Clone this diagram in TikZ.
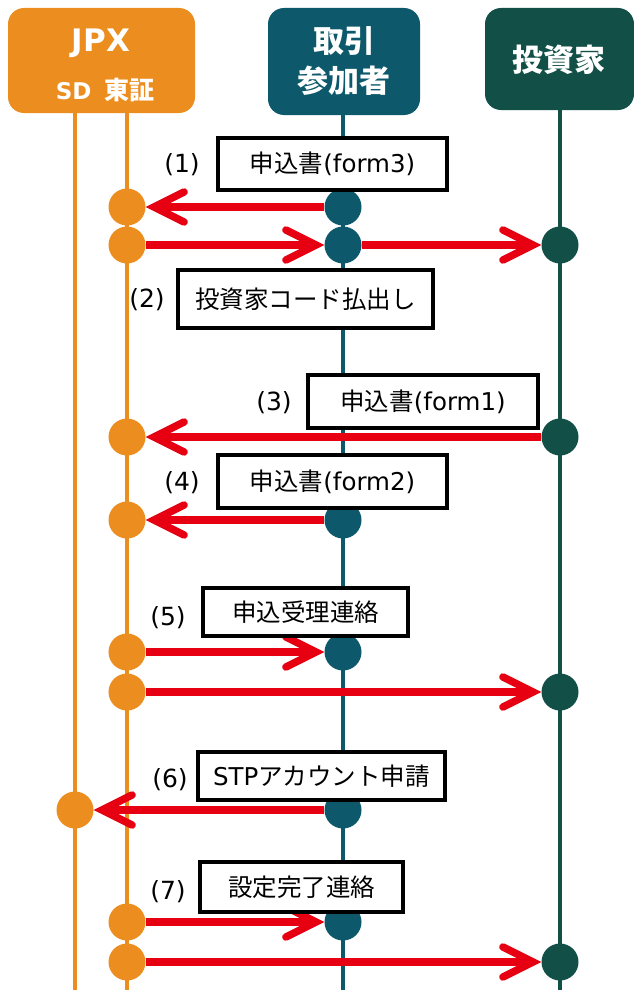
\documentclass[tikz,border=0pt]{standalone}
\usepackage{fontspec}
\setmainfont{Noto Sans CJK JP}
\newfontfamily\lat{DejaVu Sans}
\usetikzlibrary{arrows.meta}
\definecolor{jpxorange}{HTML}{EC8D1F}
\definecolor{partteal}{HTML}{0D596B}
\definecolor{invgreen}{HTML}{114F47}
\definecolor{arrred}{HTML}{E60012}
\pgfdeclarelayer{bg}
\pgfsetlayers{bg,main}
\tikzset{
  header/.style={rounded corners=16pt, inner sep=0pt},
  headtxt/.style={text=white, inner sep=0pt, align=center},
  odot/.style={circle, fill=jpxorange, minimum size=37pt, inner sep=0pt},
  tdot/.style={circle, fill=partteal, minimum size=37pt, inner sep=0pt},
  gdot/.style={circle, fill=invgreen, minimum size=37pt, inner sep=0pt},
  msgbox/.style={draw=black, line width=4.5pt, fill=white, inner sep=0pt, font=\fontsize{24.5}{28}\selectfont},
  numlbl/.style={font=\lat\fontsize{25}{28}\selectfont, inner sep=0pt},
  msg/.style={draw=arrred, line width=7.5pt, -{Straight Barb[length=30pt,width=30pt,line cap=round]}},
  lifeline/.style={line width=4pt}
}
\begin{document}
\begin{tikzpicture}[x=1pt,y=-1pt]
\useasboundingbox (0,0) rectangle (634,990);
% headers
\node[header, fill=jpxorange, minimum width=187pt, minimum height=105pt] (jpx) at (101.5,60.5) {};
\node[headtxt, font=\lat\fontsize{31}{36}\selectfont\bfseries] (jpxt) at (101,43) {JPX};
\node[headtxt, font=\fontsize{25}{28}\selectfont\bfseries] (sdt) at (105,90) {{\lat\fontsize{23}{28}\selectfont\bfseries SD}\hspace{0.5em}東証};
\node[header, fill=partteal, minimum width=152pt, minimum height=107pt] (part) at (344,61.5) {};
\node[headtxt, font=\fontsize{31}{40}\selectfont\bfseries] (partt) at (344,61) {取引\\参加者};
\node[header, fill=invgreen, minimum width=149pt, minimum height=102pt] (inv) at (559.5,59) {};
\node[headtxt, font=\fontsize{31}{36}\selectfont\bfseries] (invt) at (559,60) {投資家};
% lifeline end points
\coordinate (sdtop) at (75,113);
\coordinate (sdbot) at (75,990);
\coordinate (tstop) at (127,113);
\coordinate (tsbot) at (127,990);
\coordinate (ptop) at (343,115);
\coordinate (pbot) at (343,990);
\coordinate (itop) at (560,110);
\coordinate (ibot) at (560,990);
% dots
\node[odot] (o1) at (127,207) {};
\node[tdot] (t1) at (343,207) {};
\node[odot] (o2) at (127,245) {};
\node[tdot] (t2) at (343,245) {};
\node[gdot] (g2) at (560,245) {};
\node[gdot] (g3) at (560,437) {};
\node[odot] (o3) at (127,437) {};
\node[tdot] (t4) at (343,520) {};
\node[odot] (o4) at (127,520) {};
\node[odot] (o5) at (127,652) {};
\node[tdot] (t5) at (343,652) {};
\node[odot] (o5b) at (127,692) {};
\node[gdot] (g5) at (560,692) {};
\node[tdot] (t6) at (343,810) {};
\node[odot] (s6) at (75,810) {};
\node[odot] (o7) at (127,922) {};
\node[tdot] (t7) at (343,922) {};
\node[odot] (o7b) at (127,962) {};
\node[gdot] (g7) at (560,962) {};
\begin{pgfonlayer}{bg}
\draw[lifeline, jpxorange] (sdtop) -- (sdbot);
\draw[lifeline, jpxorange] (tstop) -- (tsbot);
\draw[lifeline, partteal] (ptop) -- (pbot);
\draw[lifeline, invgreen] (itop) -- (ibot);
\draw[msg] (t1) -- (o1);
\draw[msg] (o2) -- (t2);
\draw[msg] (t2) -- (g2);
\draw[msg] (g3) -- (o3);
\draw[msg] (t4) -- (o4);
\draw[msg] (o5) -- (t5);
\draw[msg] (o5b) -- (g5);
\draw[msg] (t6) -- (s6);
\draw[msg] (o7) -- (t7);
\draw[msg] (o7b) -- (g7);
\end{pgfonlayer}
% message boxes
\node[msgbox, minimum width=229pt, minimum height=52pt] (b1) at (332.5,164) {申込書{\lat(form3)}};
\node[numlbl] (n1) at (182,165) {(1)};
\node[msgbox, minimum width=255pt, minimum height=58pt] (b2) at (305.5,299) {投資家コード払出し};
\node[numlbl] (n2) at (147,300) {(2)};
\node[msgbox, minimum width=230pt, minimum height=53pt] (b3) at (423,401.5) {申込書{\lat(form1)}};
\node[numlbl] (n3) at (274,403) {(3)};
\node[msgbox, minimum width=229pt, minimum height=53pt] (b4) at (332.5,481.5) {申込書{\lat(form2)}};
\node[numlbl] (n4) at (182,483) {(4)};
\node[msgbox, minimum width=205pt, minimum height=48pt] (b5) at (305.5,612) {申込受理連絡};
\node[numlbl] (n5) at (168,618) {(5)};
\node[msgbox, minimum width=247pt, minimum height=48pt] (b6) at (321.5,776) {{\lat STP}アカウント申請};
\node[numlbl] (n6) at (170,780) {(6)};
\node[msgbox, minimum width=203pt, minimum height=50pt] (b7) at (301.5,887) {設定完了連絡};
\node[numlbl] (n7) at (168,892) {(7)};
\end{tikzpicture}
\end{document}
